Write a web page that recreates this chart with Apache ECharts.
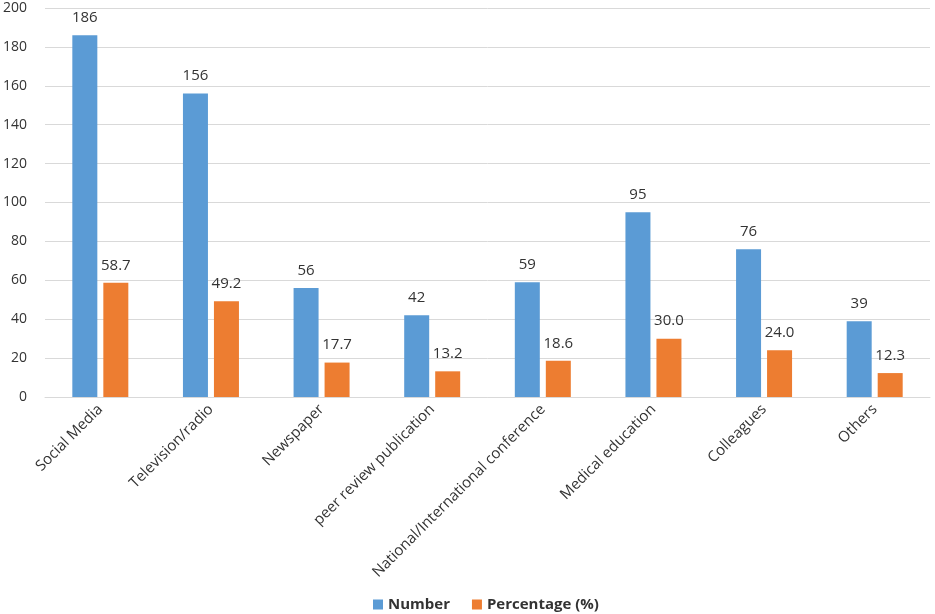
<!DOCTYPE html>
<html>
<head>
<meta charset="utf-8">
<script src="https://cdn.jsdelivr.net/npm/echarts@6/dist/echarts.min.js"></script>
<style>
html, body { margin: 0; padding: 0; background: #fff; }
#main { width: 935px; height: 614px; }
</style>
</head>
<body>
<div id="main"></div>
<script>
// categories and values
var categories = ['Social Media', 'Television/radio', 'Newspaper', 'peer review publication',
  'National/International conference', 'Medical education', 'Colleagues', 'Others'];
var numberValues = [186, 156, 56, 42, 59, 95, 76, 39];
var percentValues = [58.7, 49.2, 17.7, 13.2, 18.6, 30.0, 24.0, 12.3];
var yTicks = [0, 20, 40, 60, 80, 100, 120, 140, 160, 180, 200];

var textColor = '#333333';
var font = 'Open Sans';

var myChart = echarts.init(document.getElementById('main'));
myChart.setOption({
  animation: false,
  textStyle: { fontFamily: font },
  grid: { left: 45, right: 5, top: 8, bottom: 217 },
  legend: {
    top: 597,
    left: 373,
    padding: 0,
    itemWidth: 10,
    itemHeight: 10,
    itemGap: 22,
    icon: 'rect',
    textStyle: { color: textColor, fontSize: 15, fontWeight: 'bold', fontFamily: font }
  },
  xAxis: {
    type: 'category',
    data: categories,
    axisTick: { show: false },
    axisLine: { lineStyle: { color: '#d9d9d9', width: 1 } },
    axisLabel: { rotate: 45, color: textColor, fontSize: 15, interval: 0, margin: 10, fontFamily: font }
  },
  yAxis: {
    type: 'value',
    min: yTicks[0],
    max: yTicks[yTicks.length - 1],
    interval: yTicks[1] - yTicks[0],
    axisLine: { show: false },
    axisTick: { show: false },
    splitLine: { lineStyle: { color: '#d9d9d9', width: 1 } },
    axisLabel: { color: textColor, fontSize: 14, margin: 18, fontFamily: font }
  },
  series: [
    {
      name: 'Number',
      type: 'bar',
      data: numberValues,
      barWidth: 25,
      barGap: '24%',
      itemStyle: { color: '#5B9BD5' },
      label: { show: true, position: 'top', distance: 10, color: textColor, fontSize: 15, fontFamily: font }
    },
    {
      name: 'Percentage (%)',
      type: 'bar',
      data: percentValues,
      barWidth: 25,
      itemStyle: { color: '#ED7D31' },
      label: {
        show: true, position: 'top', distance: 10, color: textColor, fontSize: 15, fontFamily: font,
        formatter: function (p) { return p.value.toFixed(1); }
      }
    }
  ]
});
</script>
</body>
</html>
